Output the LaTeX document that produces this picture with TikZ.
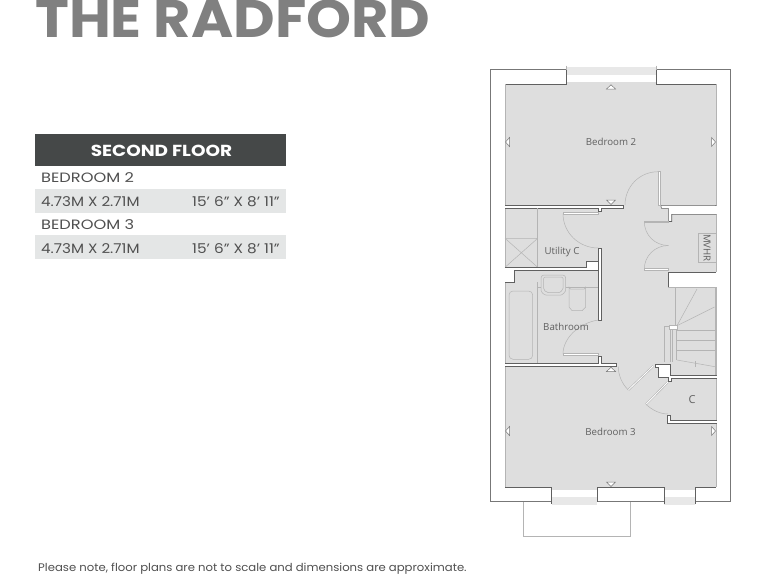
\documentclass[tikz,border=0pt]{standalone}
\usepackage{fontspec}
\setmainfont{Poppins}
\newfontfamily\roomfont{Open Sans}
\definecolor{floorgrey}{HTML}{DEDEDE}
\definecolor{walldark}{HTML}{606060}
\definecolor{wallmid}{HTML}{777777}
\definecolor{thinline}{HTML}{B4B4B4}
\definecolor{winband}{HTML}{E8E8E8}
\definecolor{headdark}{HTML}{454848}
\definecolor{rowgrey}{HTML}{E4E6E6}
\definecolor{tabletext}{HTML}{505050}
\definecolor{titlegrey}{HTML}{808080}
\tikzset{
  x=1pt,y=-1pt,
  wall/.style={fill=white,draw=walldark,line width=0.6pt,line join=miter},
  thin/.style={draw=thinline,line width=0.5pt},
  leaf/.style={draw=thinline,line width=0.7pt,fill=white},
  fixture/.style={draw=thinline,line width=0.5pt},
  tri/.style={fill=white,draw=wallmid,line width=0.5pt},
  roomlabel/.style={font=\roomfont\fontsize{9.7}{11}\selectfont,text=walldark,inner sep=0pt},
  rowtext/.style={font=\fontsize{13.5}{15}\selectfont,text=tabletext,inner sep=0pt},
}
\begin{document}
\begin{tikzpicture}
\useasboundingbox (0,0) rectangle (768,576);
\fill[white] (0,0) rectangle (768,576);
% title
\node[anchor=base west,inner sep=0pt,text=titlegrey,xscale=1.08,font=\fontsize{53}{60}\selectfont\bfseries] (title) at (35,37) {THE RADFORD};
% table
\fill[headdark] (35,134) rectangle (286,166);
\node[font=\fontsize{16}{18}\selectfont\bfseries,text=white,inner sep=0pt,xscale=1.155] (head) at (161.5,150.5) {SECOND FLOOR};
\fill[rowgrey] (35,189) rectangle (286,212.7);
\fill[rowgrey] (35,235.3) rectangle (286,259);
\node[rowtext,anchor=west,xscale=1.2] (r1) at (41,178) {BEDROOM 2};
\node[rowtext,anchor=west,xscale=1.12] (r2) at (41,201.5) {4.73M X 2.71M};
\node[rowtext,anchor=east,xscale=1.13] (r2b) at (280,201.5) {15' 6'' X 8' 11''};
\node[rowtext,anchor=west,xscale=1.2] (r3) at (41,224.5) {BEDROOM 3};
\node[rowtext,anchor=west,xscale=1.12] (r4) at (41,248.5) {4.73M X 2.71M};
\node[rowtext,anchor=east,xscale=1.13] (r4b) at (280,248.5) {15' 6'' X 8' 11''};
% footer
\node[anchor=base west,inner sep=0pt,text=tabletext,xscale=1.06,font=\fontsize{11}{12}\selectfont] (foot) at (38,571) {Please note, floor plans are not to scale and dimensions are approximate.};
% balcony
\draw[thinline,line width=0.7pt] (523.3,501.7) -- (523.3,536) -- (630,536) -- (630,501.7);
% outer wall
\draw[wallmid,line width=0.8pt,fill=white] (490.3,69.3) rectangle (730.7,501.7);
% windows
\fill[white] (566,65) rectangle (656,84);
\fill[winband] (566,67) rectangle (656,74.5);
\draw[thinline,line width=0.4pt] (566,65.5) -- (566,75) (656,65.5) -- (656,75);
\fill[white] (551.7,487) rectangle (597.3,505);
\fill[winband] (551.7,497) rectangle (597.3,504.5);
\fill[white] (664.3,487) rectangle (695.3,505);
\fill[winband] (664.3,497) rectangle (695.3,504.5);
% floor
\fill[floorgrey] (505,84) rectangle (716,487.3);
\fill[floorgrey] (566,81.7) rectangle (656,84);
\fill[floorgrey] (551.7,487.3) rectangle (597.3,490);
\fill[floorgrey] (664.3,487.3) rectangle (695.3,490);
% wall outlines around windows
\draw[walldark,line width=0.8pt] (566,69.5) -- (566,84) -- (505,84);
\draw[walldark,line width=0.8pt] (656,69.5) -- (656,84) -- (716,84);
\draw[walldark,line width=0.8pt] (505,487.3) -- (551.7,487.3) -- (551.7,504);
\draw[walldark,line width=0.8pt] (597.3,501.7) -- (597.3,487.3) -- (664.3,487.3) -- (664.3,504);
\draw[walldark,line width=0.8pt] (695.3,504) -- (695.3,487.3) -- (716,487.3);
% side wall shade
\draw[thinline,line width=1pt] (505,84) -- (505,487.3);
\draw[thinline,line width=1pt] (716,84) -- (716,487.3);
% upper white walls
\path[wall] (505,205.3) -- (623.3,205.3) -- (623.3,208.3) -- (601,208.3) -- (601,211.7) -- (598.3,211.7) -- (598.3,208.3) -- (505,208.3);
\path[wall] (660.7,205.3) -- (716,205.3) -- (716,214.3) -- (671.7,214.3) -- (671.7,221.5) -- (668.3,221.5) -- (668.3,208.3) -- (661.5,208.3) -- cycle;
% bedroom 2 door
\draw[leaf] (658.2,171.7) rectangle (660.5,205.3);
\draw[thin] (658.2,171.7) .. controls (639,171.7) and (625,187) .. (625,205);
% utility
\draw[thin] (537.7,208.3) -- (537.7,267.3);
\draw[thin] (505,238.3) -- (537.7,238.3) (505,238.3) -- (537.7,267.3) (537.7,238.3) -- (505,267.3);
\draw[leaf] (563,212.5) rectangle (598.3,214.3);
\draw[thin] (563,213.5) .. controls (563,233) and (579,248) .. (598.3,248);
% central wall utility / bath
\path[wall] (598.3,248) -- (601,248) -- (601,320) -- (598.3,320) -- cycle;
\path[wall] (505,267.3) -- (586.7,267.3) -- (586.7,261.7) -- (598.3,261.7) -- (598.3,270.3) -- (514.3,270.3) -- (514.3,282.3) -- (505,282.3);
\draw[thin] (537.7,282.3) -- (537.7,363.3);
\draw[thin] (537.7,287.7) -- (541,287.7) (565.7,287.7) -- (598,287.7);
% bath
\draw[fixture,rounded corners=4pt] (509,291) rectangle (532.7,359.3);
% basin
\draw[fixture,rounded corners=3pt] (541,275) -- (565.7,275) -- (565.7,287) .. controls (565.7,292) and (562,295) .. (558,295) -- (549,295) .. controls (544,295) and (541,292) .. (541,287) -- cycle;
\draw[fixture,rounded corners=2pt] (543.5,277) -- (563.2,277) -- (563.2,286) .. controls (563.2,290) and (560,292.5) .. (557,292.5) -- (550,292.5) .. controls (546,292.5) and (543.5,290) .. (543.5,286) -- cycle;
% wc
\draw[fixture,rounded corners=5pt] (569,292) .. controls (569,290) and (572,289) .. (577,289) .. controls (583,289) and (585.7,290) .. (585.7,292) -- (585.7,302) .. controls (585.7,307) and (582,310.7) .. (577.3,310.7) .. controls (572,310.7) and (569,307) .. (569,302) -- cycle;
% bathroom door
\draw[leaf] (563,353.2) rectangle (598.3,355);
\draw[thin] (598.3,320) .. controls (579,323) and (563,338) .. (563,354);
% wall above bedroom 3
\path[wall] (505,366.7) -- (505,363.6) -- (598.3,363.6) -- (598.3,356.7) -- (601,356.7) -- (601,363.6) -- (616.7,363.6) -- (616.7,366.7) -- cycle;
% MVHR cupboard
\fill[white] (668.3,272.3) rectangle (716.5,287.3);
\draw[walldark,line width=0.6pt] (668.3,287.3) -- (668.3,272.3) -- (716,272.3);
\draw[leaf] (644.3,221) rectangle (668.3,222.5);
\draw[leaf] (644.3,268.5) rectangle (668.3,270);
\draw[thin] (644.3,221.7) .. controls (644.3,235) and (655,245.5) .. (668.3,245.5);
\draw[thin] (668.3,245.5) .. controls (655,245.5) and (644.3,256) .. (644.3,269);
\draw[thin] (698.3,233.3) rectangle (716,262.7);
\node[roomlabel,rotate=-90] (mvhr) at (707.2,248) {MVHR};
% stairs
\draw[thin] (668.3,287.3) -- (715,287.3) -- (715,375);
\draw[thin] (675,287.3) -- (675,325.7);
\draw[thin] (677,325.7) -- (697,289);
\draw[thin] (677,325.7) -- (714.5,307);
\draw[thin] (664.3,362) -- (664.3,326) -- (669,326);
\draw[thin] (670.5,329) -- (670.5,362);
\draw[thin] (672.5,329) -- (672.5,362);
\draw[thin] (676.5,329) -- (676.5,360);
\draw[leaf] (669,325.7) rectangle (677.7,329);
\draw[thin] (677,330) -- (715,330) (677,340) -- (715,340) (677,350) -- (715,350);
\draw[thin] (677,360) -- (715,366.7);
\draw[thin] (695,361) -- (695,367);
% pillar and wall under stairs
\path[wall] (655,364) -- (670,364) -- (670,375) -- (716,375) -- (716,378.3) -- (671,378.3) -- (671,381.5) -- (668,381.5) -- (668,377) -- (658.5,377) -- (658.5,367) -- (655,367) -- cycle;
% bedroom 3 door
\draw[draw=thinline,line width=2pt] (653.3,366) -- (628.3,390);
\draw[draw=white,line width=0.8pt] (653.3,366) -- (628.3,390);
\draw[thin] (628.3,390) .. controls (622,384) and (618.3,375) .. (618.3,366.7);
% C cupboard door
\draw[draw=thinline,line width=2pt] (668,382) -- (646,404.3);
\draw[draw=white,line width=0.8pt] (668,382) -- (646,404.3);
\draw[thin] (646,404.3) .. controls (652,410) and (660,414) .. (668,414);
\path[wall] (667.7,415) -- (670,415) -- (670,420.7) -- (716,420.7) -- (716,423.3) -- (667.7,423.3) -- cycle;
% open ends of white walls
\draw[white,line width=1.2pt] (505,205.8) -- (505,207.8) (505,267.8) -- (505,281.8) (505,364.1) -- (505,366.2);
\draw[white,line width=1.2pt] (716,205.8) -- (716,213.8) (716,272.8) -- (716,286.8) (716,375.5) -- (716,377.8) (716,421.2) -- (716,422.8);
% triangles
\path[tri] (606.5,89) -- (611,84.8) -- (615.5,89) -- cycle;
\path[tri] (606.5,200) -- (615.5,200) -- (611,204.4) -- cycle;
\path[tri] (509.5,137.5) -- (509.5,146.5) -- (505.5,142) -- cycle;
\path[tri] (711.5,137.5) -- (711.5,146.5) -- (715.5,142) -- cycle;
\path[tri] (606.5,371.5) -- (611,367.3) -- (615.5,371.5) -- cycle;
\path[tri] (606.5,482) -- (615.5,482) -- (611,486.4) -- cycle;
\path[tri] (509.5,426.5) -- (509.5,435.5) -- (505.5,431) -- cycle;
\path[tri] (711.5,426.5) -- (711.5,435.5) -- (715.5,431) -- cycle;
% room labels
\node[roomlabel] (bed2) at (611,141.5) {Bedroom 2};
\node[roomlabel] (util) at (562,252) {Utility C};
\node[roomlabel] (bath) at (566,326.5) {Bathroom};
\node[roomlabel] (bed3) at (610.5,431.5) {Bedroom 3};
\node[roomlabel,font=\roomfont\fontsize{11}{12}\selectfont] (cupb) at (692,400) {C};
\end{tikzpicture}
\end{document}
